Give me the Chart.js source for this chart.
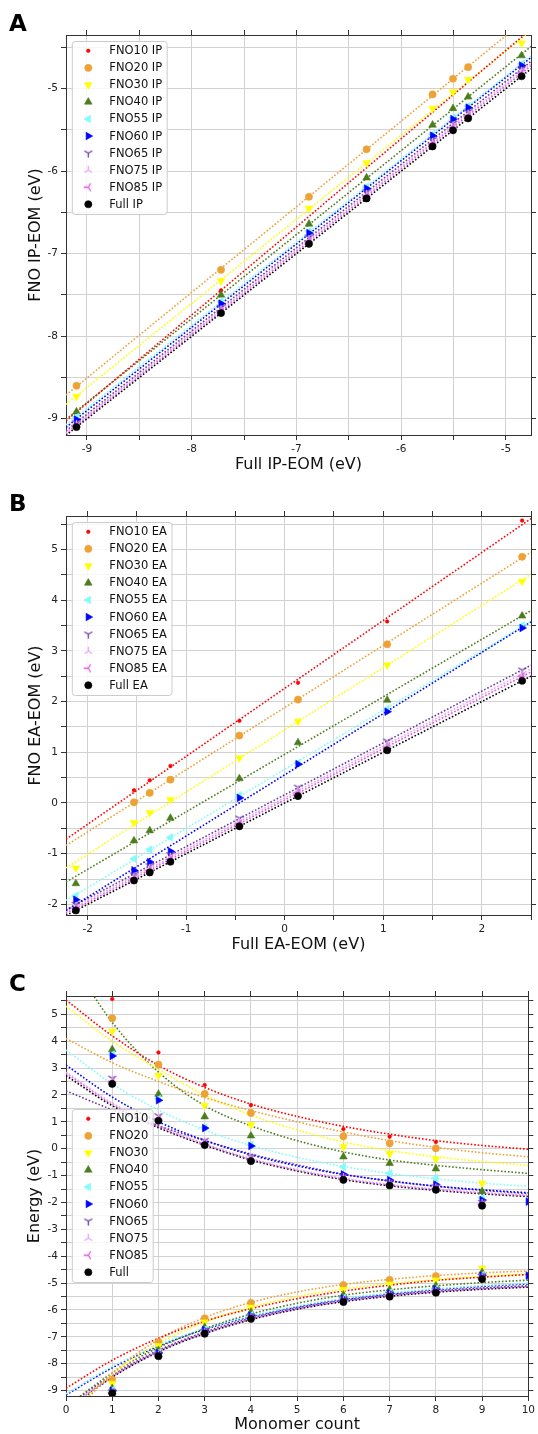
<!DOCTYPE html>
<html><head><meta charset="utf-8">
<script src="https://cdn.jsdelivr.net/npm/chart.js@4.4.1/dist/chart.umd.min.js"></script>
<style>
html,body{margin:0;padding:0;background:#fff;}
body{width:538px;height:1434px;position:relative;overflow:hidden;font-family:"DejaVu Sans",sans-serif;}
.panel{position:absolute;left:0;width:538px;}
.letter{position:absolute;left:9px;font:bold 23px "DejaVu Sans",sans-serif;line-height:23px;color:#000;}
</style></head><body>
<div class="panel" style="top:0;height:480px"><canvas id="cA"></canvas></div>
<div class="panel" style="top:480px;height:480px"><canvas id="cB"></canvas></div>
<div class="panel" style="top:960px;height:474px"><canvas id="cC"></canvas></div>
<div class="letter" style="top:12px">A</div>
<div class="letter" style="top:492px">B</div>
<div class="letter" style="top:972px">C</div>
<script>
// ---------------- DATA ----------------
const seriesNames = ['FNO10','FNO20','FNO30','FNO40','FNO55','FNO60','FNO65','FNO75','FNO85','Full'];
const monomers = [1,2,3,4,6,7,8,9,10];
const fullIP  = [-9.10,-7.72,-6.88,-6.33,-5.70,-5.505,-5.36,-4.85,null];
const fullEA  = [2.41,1.04,0.135,-0.46,-1.16,-1.37,-1.53,-2.12,null];
const fno10IP = [-8.92,-7.445,null,null,null,null,null,null,null];
const fno10EA = [5.57,3.58,2.37,1.62,0.73,0.447,0.25,null,null];
const fno20IP = [-8.60,-7.195,-6.31,-5.735,-5.07,-4.88,-4.74,null,null];
const fno20EA = [4.855,3.13,2.04,1.33,0.46,0.20,0.013,null,null];
const fno30IP = [-8.73,-7.33,-6.45,-5.90,-5.24,-5.04,-4.89,-4.45,null];
const fno30EA = [4.37,2.72,1.61,0.89,0.066,-0.19,-0.39,-1.285,null];
const fno40IP = [-8.915,-7.50,-6.64,-6.08,-5.44,-5.24,-5.10,-4.60,null];
const fno40EA = [3.69,2.03,1.19,0.48,-0.30,-0.545,-0.745,-1.59,null];
const fno55IP = [-8.98,-7.58,-6.73,-6.19,-5.55,-5.35,-5.21,-4.70,null];
const fno55EA = [3.50,1.85,0.79,0.15,-0.68,-0.92,-1.10,-1.83,null];
const fno60IP = [-9.01,-7.605,-6.75,-6.21,-5.57,-5.37,-5.23,-4.72,-4.72];
const fno60EA = [3.45,1.80,0.765,0.10,-0.955,-1.165,-1.33,-1.91,-1.97];
const fno65IP = [-9.05,-7.65,-6.80,-6.25,-5.62,-5.42,-5.28,-4.76,null];
const fno65EA = [2.62,1.22,0.31,-0.30,-1.02,-1.24,-1.42,-2.00,null];
const fno75IP = [-9.07,-7.68,-6.83,-6.28,-5.65,-5.45,-5.31,-4.79,null];
const fno75EA = [2.55,1.15,0.25,-0.36,-1.07,-1.29,-1.46,-2.04,null];
const fno85IP = [-9.08,-7.70,-6.85,-6.30,-5.67,-5.47,-5.33,-4.81,null];
const fno85EA = [2.50,1.10,0.20,-0.41,-1.11,-1.33,-1.49,-2.07,null];

// fitted trend curves of panel C at monomer count 0..10
const curveX = [0,1,2,3,4,5,6,7,8,9,10];
const fitEA10 = [5.53,4.2,3.1,2.28,1.66,1.2,0.83,0.54,0.3,0.12,-0.02];
const fitEA20 = [4.1,3.2,2.5,1.9,1.42,1.0,0.62,0.3,0.05,-0.15,-0.3];
const fitEA30 = [5.3,4.0,2.95,2.0,1.25,0.7,0.25,-0.07,-0.3,-0.48,-0.62];
const fitEA40 = [7.3,4.7,2.85,1.6,0.85,0.3,-0.12,-0.42,-0.62,-0.78,-0.92];
const fitEA55 = [3.67,2.41,1.44,0.69,0.12,-0.32,-0.66,-0.92,-1.12,-1.28,-1.4];
const fitEA60 = [3.11,1.92,1.0,0.31,-0.23,-0.64,-0.96,-1.2,-1.39,-1.53,-1.64];
const fitEA65 = [2.15,1.45,0.85,0.3,-0.2,-0.6,-0.95,-1.2,-1.4,-1.55,-1.67];
const fitEA75 = [2.85,1.7,0.85,0.18,-0.37,-0.78,-1.1,-1.33,-1.5,-1.63,-1.73];
const fitEA85 = [2.8,1.66,0.82,0.16,-0.39,-0.8,-1.12,-1.35,-1.52,-1.65,-1.75];
const fitEAFull = [2.72,1.6,0.78,0.13,-0.42,-0.83,-1.15,-1.38,-1.55,-1.68,-1.78];
const fitIP10 = [-8.91,-7.87,-7.05,-6.42,-5.95,-5.58,-5.3,-5.08,-4.9,-4.78,-4.68];
const fitIP20 = [-10.2,-8.35,-7.1,-6.28,-5.72,-5.33,-5.05,-4.86,-4.72,-4.62,-4.55];
const fitIP30 = [-10.0,-8.4,-7.25,-6.45,-5.9,-5.5,-5.22,-5.02,-4.87,-4.75,-4.66];
const fitIP40 = [-9.6,-8.35,-7.4,-6.7,-6.15,-5.75,-5.45,-5.25,-5.1,-4.98,-4.89];
const fitIP55 = [-9.12,-8.1,-7.3,-6.68,-6.22,-5.85,-5.57,-5.37,-5.21,-5.09,-5.0];
const fitIP60 = [-9.16,-8.15,-7.35,-6.72,-6.25,-5.88,-5.6,-5.4,-5.24,-5.12,-5.03];
const fitIP65 = [-9.6,-8.42,-7.5,-6.82,-6.3,-5.92,-5.64,-5.44,-5.29,-5.18,-5.1];
const fitIP75 = [-9.65,-8.45,-7.52,-6.84,-6.32,-5.94,-5.66,-5.46,-5.31,-5.2,-5.12];
const fitIP85 = [-9.7,-8.48,-7.54,-6.86,-6.34,-5.96,-5.67,-5.47,-5.32,-5.21,-5.13];
const fitIPFull = [-9.8,-8.5,-7.56,-6.88,-6.36,-5.97,-5.69,-5.49,-5.34,-5.23,-5.15];

const ipSeries = [fno10IP,fno20IP,fno30IP,fno40IP,fno55IP,fno60IP,fno65IP,fno75IP,fno85IP,fullIP];
const eaSeries = [fno10EA,fno20EA,fno30EA,fno40EA,fno55EA,fno60EA,fno65EA,fno75EA,fno85EA,fullEA];
const fitEA = [fitEA10,fitEA20,fitEA30,fitEA40,fitEA55,fitEA60,fitEA65,fitEA75,fitEA85,fitEAFull];
const fitIP = [fitIP10,fitIP20,fitIP30,fitIP40,fitIP55,fitIP60,fitIP65,fitIP75,fitIP85,fitIPFull];

// ---------------- STYLES ----------------
function triImg(color, angles){
  const c=document.createElement('canvas'); c.width=13; c.height=13;
  const g=c.getContext('2d'); g.strokeStyle=color; g.lineWidth=1.3; g.beginPath();
  angles.forEach(a=>{ g.moveTo(6.5,6.5); g.lineTo(6.5+4.6*Math.cos(a*Math.PI/180), 6.5+4.6*Math.sin(a*Math.PI/180)); });
  g.stroke(); return c;
}
const styles = [
  {color:'#ff0000', shape:'circle', r:1.8},
  {color:'#eea236', shape:'circle', r:3.6},
  {color:'#ffff00', shape:'triangle', rot:180, r:4.4},
  {color:'#4b7d1e', shape:'triangle', rot:0, r:4.4},
  {color:'#80fcfc', shape:'triangle', rot:270, r:4.4},
  {color:'#0000ff', shape:'triangle', rot:90, r:4.4},
  {color:'#6a3aa6', tri:[90,210,330]},
  {color:'#e3a3f5', tri:[270,30,150]},
  {color:'#e94fe9', tri:[180,300,60]},
  {color:'#000000', shape:'circle', r:3.6}
];
styles.forEach(s=>{ if(s.tri) s.img = triImg(s.color, s.tri); });

const FONT = '"DejaVu Sans", sans-serif';
Chart.defaults.font.family = FONT;

function drawMarker(ctx, st, x, y){
  ctx.save();
  if (st.img){ ctx.drawImage(st.img, x-st.img.width/2, y-st.img.height/2); ctx.restore(); return; }
  ctx.fillStyle=st.color; ctx.strokeStyle=st.color; ctx.lineWidth=0.6;
  ctx.beginPath();
  if (st.shape==='circle') ctx.arc(x,y,st.r,0,Math.PI*2);
  else {
    let a=(st.rot||0)*Math.PI/180;
    for(let k=0;k<3;k++){ const px=x+Math.sin(a)*st.r, py=y-Math.cos(a)*st.r; k?ctx.lineTo(px,py):ctx.moveTo(px,py); a+=2*Math.PI/3; }
    ctx.closePath();
  }
  ctx.fill(); ctx.stroke(); ctx.restore();
}

const boxLegend = {
  id:'boxLegend',
  afterDatasetsDraw(chart, args, o){
    const ctx=chart.ctx, a=chart.chartArea, labels=o.labels;
    ctx.save();
    ctx.font='11.5px '+FONT;
    let tw=0; labels.forEach(t=>{ tw=Math.max(tw, ctx.measureText(t).width); });
    const w=37+tw+5, h=173;
    const x0=a.left+6.3;
    const y0=o.vcenter ? (a.top+a.bottom)/2-h/2 : a.top+6.5;
    const r=3;
    ctx.beginPath();
    ctx.moveTo(x0+r,y0); ctx.lineTo(x0+w-r,y0); ctx.arcTo(x0+w,y0,x0+w,y0+r,r);
    ctx.lineTo(x0+w,y0+h-r); ctx.arcTo(x0+w,y0+h,x0+w-r,y0+h,r);
    ctx.lineTo(x0+r,y0+h); ctx.arcTo(x0,y0+h,x0,y0+h-r,r);
    ctx.lineTo(x0,y0+r); ctx.arcTo(x0,y0,x0+r,y0,r); ctx.closePath();
    ctx.fillStyle='rgba(255,255,255,0.82)'; ctx.fill();
    ctx.strokeStyle='#cccccc'; ctx.lineWidth=1; ctx.stroke();
    labels.forEach((t,i)=>{
      const cy=y0+9.3+i*17.05;
      drawMarker(ctx, styles[i], x0+16, cy);
      ctx.fillStyle='#111'; ctx.textAlign='left'; ctx.textBaseline='middle';
      ctx.fillText(t, x0+37, cy+0.5);
    });
    ctx.restore();
  }
};

// ---------------- HELPERS ----------------
function pairs(xs, ys){ const out=[]; xs.forEach((x,i)=>{ if(x!=null && ys[i]!=null) out.push({x:x, y:ys[i]}); }); return out; }
function linfit(p){
  let n=0,sx=0,sy=0,sxx=0,sxy=0;
  p.forEach(q=>{ n++; sx+=q.x; sy+=q.y; sxx+=q.x*q.x; sxy+=q.x*q.y; });
  const b=(n*sxy-sx*sy)/(n*sxx-sx*sx), a=(sy-b*sx)/n; return [a,b];
}
function pointDs(label, data, st, i){
  return {label, data, showLine:false, order:-i, clip:0,
    pointStyle: st.img || st.shape, pointRadius: st.img?3:st.r, pointHoverRadius: st.img?3:st.r,
    pointRotation: st.rot||0, pointBackgroundColor: st.color, pointBorderColor: st.color,
    pointBorderWidth: st.img?0:0.6};
}
function lineDs(data, color, smooth){
  return {data, showLine:true, pointRadius:0, pointHoverRadius:0, order:10, clip:0,
    borderColor:color, borderWidth:1.6, borderDash:[1.6,1.9], fill:false,
    cubicInterpolationMode: smooth?'monotone':'default', tension:0};
}
const lab = v => (Math.abs(v-Math.round(v))<1e-6 ? String(Math.round(v)) : '');
function mkScales(c){
  const tf={family:FONT,size:10.5};
  const grid={color:'#d2d2d2', lineWidth:1, tickColor:'#333', tickLength:5, drawTicks:true};
  const border={display:true,color:'#333',width:1};
  const tk=(step,show)=>({stepSize:step, includeBounds:false, autoSkip:false, maxRotation:0, minRotation:0,
      display:show, callback:lab, font:tf, color:'#222', padding:3});
  return {
    x:{type:'linear',position:'bottom',min:c.x[0],max:c.x[1],ticks:tk(c.xs,true),grid:{...grid},border,
       title:{display:true,text:c.xt,font:{family:FONT,size:16},color:'#111',padding:{top:0,bottom:c.xtp}},
       afterFit:s=>{s.height=c.bottom;}},
    x2:{type:'linear',position:'top',min:c.x[0],max:c.x[1],ticks:tk(c.xs,false),grid:{...grid,drawOnChartArea:false},border,
       afterFit:s=>{s.height=c.top;}},
    y:{type:'linear',position:'left',min:c.y[0],max:c.y[1],ticks:tk(0.5,true),grid:{...grid},border,
       title:{display:true,text:c.yt,font:{family:FONT,size:16},color:'#111',padding:{top:c.ytp,bottom:0}},
       afterFit:s=>{s.width=66;}},
    y2:{type:'linear',position:'right',min:c.y[0],max:c.y[1],ticks:tk(0.5,false),grid:{...grid,drawOnChartArea:false},border,
       afterFit:s=>{s.width=7;}}
  };
}
function mkChart(id, datasets, scaleCfg, legendLabels, vcenter){
  return new Chart(document.getElementById(id), {
    type:'scatter',
    data:{datasets},
    options:{responsive:true, maintainAspectRatio:false, animation:false, devicePixelRatio:1, events:[],
      layout:{padding:0},
      plugins:{legend:{display:false}, tooltip:{enabled:false}, boxLegend:{labels:legendLabels, vcenter}},
      scales:mkScales(scaleCfg)},
    plugins:[boxLegend]
  });
}

// ---------------- PANEL A ----------------
(function(){
  const xr=[-9.2,-4.76];
  const ds=[];
  ipSeries.forEach((ys,i)=>{
    const p=pairs(fullIP, ys); const [a,b]=linfit(p);
    ds.push(lineDs([{x:xr[0],y:a+b*xr[0]},{x:xr[1],y:a+b*xr[1]}], styles[i].color, false));
    ds.push(pointDs(seriesNames[i]+' IP', p, styles[i], i));
  });
  mkChart('cA', ds, {x:xr, y:[-9.197,-4.35], xs:0.5, xt:'Full IP-EOM (eV)', yt:'FNO IP-EOM (eV)',
    xtp:5.4, ytp:26, top:35, bottom:45}, seriesNames.map(n=>n+' IP'), false);
})();

// ---------------- PANEL B ----------------
(function(){
  const xr=[-2.22,2.50];
  const ds=[];
  eaSeries.forEach((ys,i)=>{
    const p=pairs(fullEA, ys); const [a,b]=linfit(p);
    ds.push(lineDs([{x:xr[0],y:a+b*xr[0]},{x:xr[1],y:a+b*xr[1]}], styles[i].color, false));
    ds.push(pointDs(seriesNames[i]+' EA', p, styles[i], i));
  });
  mkChart('cB', ds, {x:xr, y:[-2.21,5.66], xs:0.5, xt:'Full EA-EOM (eV)', yt:'FNO EA-EOM (eV)',
    xtp:5.4, ytp:26, top:36, bottom:45}, seriesNames.map(n=>n+' EA'), false);
})();

// ---------------- PANEL C ----------------
(function(){
  const ds=[];
  seriesNames.forEach((n,i)=>{
    ds.push(lineDs(pairs(curveX, fitEA[i]), styles[i].color, true));
    ds.push(lineDs(pairs(curveX, fitIP[i]), styles[i].color, true));
    const p=pairs(monomers, eaSeries[i]).concat(pairs(monomers, ipSeries[i]));
    ds.push(pointDs(n, p, styles[i], i));
  });
  mkChart('cC', ds, {x:[0,10], y:[-9.2,5.68], xs:1, xt:'Monomer count', yt:'Energy (eV)',
    xtp:0, ytp:25, top:36, bottom:38}, seriesNames.slice(), true);
})();
</script>
</body></html>
